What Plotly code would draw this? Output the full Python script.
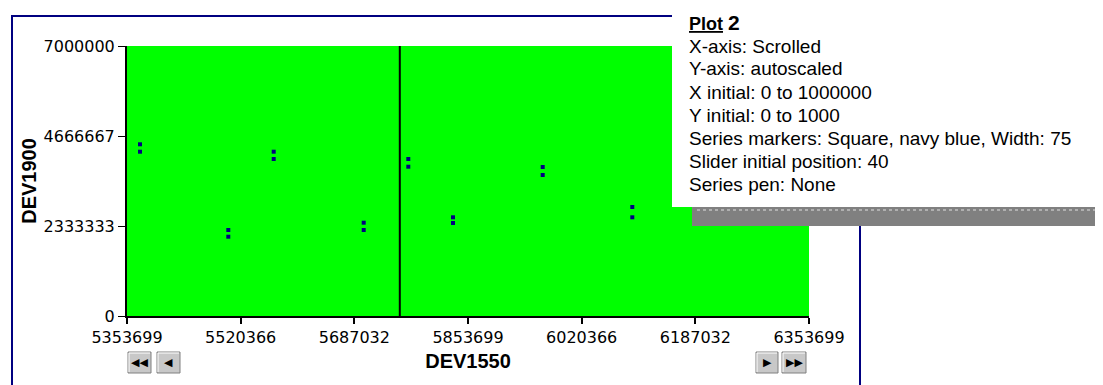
import plotly.graph_objects as go

# ---- data ----
x_values = [5372761, 5502233, 5568802, 5700766, 5766162, 5831705, 5963230, 6094608]
y_upper = [4451481, 2229630, 4259630, 2418889, 4070370, 2558889, 3862963, 2825926]
y_lower = [4259630, 2055926, 4070370, 2229630, 3870741, 2411111, 3655556, 2558889]
x_tick_values = [5353699, 5520366, 5687032, 5853699, 6020366, 6187032, 6353699]
x_tick_labels = ["5353699", "5520366", "5687032", "5853699", "6020366", "6187032", "6353699"]
y_tick_values = [0, 2333333, 4666667, 7000000]
y_tick_labels = ["0", "2333333", "4666667", "7000000"]
x_range = [5353699, 6353699]
y_range = [0, 7000000]
slider_position = 40  # percent
info_title = "Plot"
info_number = "2"
info_lines = [
    "X-axis: Scrolled",
    "Y-axis: autoscaled",
    "X initial: 0 to 1000000",
    "Y initial: 0 to 1000",
    "Series markers: Square, navy blue, Width: 75",
    "Slider initial position: 40",
    "Series pen: None",
]

# page body has an 8px margin; the figure is sized so it ends at the window edge
OFF = 8
WIN_W, WIN_H = 1103, 385
PLOT_L, PLOT_R, PLOT_T, PLOT_B = 127, 809, 46, 316  # window pixel coords of plot area
W, H = WIN_W - OFF, WIN_H - OFF
L, T = PLOT_L - OFF, PLOT_T - OFF
R, B = WIN_W - PLOT_R, WIN_H - PLOT_B
PW, PH = PLOT_R - PLOT_L, PLOT_B - PLOT_T


def pxx(x):
    return (x - PLOT_L) / PW


def pxy(y):
    return (PLOT_B - y) / PH


FONT = "Liberation Sans, Arial, sans-serif"
TICKFONT = "DejaVu Sans"
NAVY = "#000080"

fig = go.Figure()
fig.add_trace(go.Scatter(
    x=x_values + x_values,
    y=y_upper + y_lower,
    mode="markers",
    marker=dict(symbol="square", size=4, color=NAVY, line=dict(width=0)),
    hoverinfo="skip",
    showlegend=False,
))

slider_x = x_range[0] + slider_position / 100 * (x_range[1] - x_range[0])

shapes = []
# outer navy frame
shapes.append(dict(type="rect", xref="paper", yref="paper",
                   x0=pxx(12), x1=pxx(860), y0=pxy(420), y1=pxy(16),
                   line=dict(color=NAVY, width=2), fillcolor="rgba(0,0,0,0)", layer="above"))
# slider line
shapes.append(dict(type="line", xref="x", yref="y", x0=slider_x, x1=slider_x,
                   y0=y_range[0], y1=y_range[1], line=dict(color="black", width=2), layer="above"))
# popup shadow
shapes.append(dict(type="rect", xref="paper", yref="paper",
                   x0=pxx(692), x1=pxx(1110), y0=pxy(226), y1=pxy(8),
                   line=dict(width=0), fillcolor="#808080", layer="above"))
# popup box
shapes.append(dict(type="rect", xref="paper", yref="paper",
                   x0=pxx(672), x1=pxx(1097), y0=pxy(207), y1=pxy(-5),
                   line=dict(width=0), fillcolor="white", layer="above"))
# dotted line in shadow
shapes.append(dict(type="line", xref="paper", yref="paper",
                   x0=pxx(697), x1=pxx(1103), y0=pxy(210), y1=pxy(210),
                   line=dict(color="#e0e0e0", width=1, dash="dot"), layer="above"))
# scroll buttons
buttons = [(128, 151, "◀◀"), (157, 180, "◀"), (756, 778, "▶"), (782, 806, "▶▶")]
for x0, x1, _ in buttons:
    shapes.append(dict(type="rect", xref="paper", yref="paper",
                       x0=pxx(x0), x1=pxx(x1), y0=pxy(373), y1=pxy(352),
                       line=dict(color="#808080", width=1), fillcolor="#c8c8c8", layer="above"))
    shapes.append(dict(type="line", xref="paper", yref="paper",
                       x0=pxx(x0 + 1), x1=pxx(x1 - 1), y0=pxy(353), y1=pxy(353),
                       line=dict(color="white", width=1), layer="above"))
    shapes.append(dict(type="line", xref="paper", yref="paper",
                       x0=pxx(x0 + 1), x1=pxx(x0 + 1), y0=pxy(353), y1=pxy(372),
                       line=dict(color="white", width=1), layer="above"))

annotations = []
for x0, x1, sym in buttons:
    annotations.append(dict(xref="paper", yref="paper", x=pxx((x0 + x1) / 2), y=pxy(362.5),
                            text=sym, showarrow=False, xanchor="center", yanchor="middle",
                            font=dict(family="DejaVu Sans", size=11, color="black")))

annotations.append(dict(xref="paper", yref="paper", x=pxx(687), y=pxy(22),
                        text=f"<b><u>{info_title}</u></b> <b><span style='font-size:21px'>{info_number}</span></b>",
                        showarrow=False, xanchor="left", yanchor="middle",
                        font=dict(family=FONT, size=18, color="black")))
for i, line in enumerate(info_lines):
    annotations.append(dict(xref="paper", yref="paper", x=pxx(687), y=pxy(46 + i * 23),
                            text=line, showarrow=False, xanchor="left", yanchor="middle",
                            font=dict(family=FONT, size=19, color="black")))

fig.update_layout(
    width=W, height=H,
    margin=dict(l=L, r=R, t=T, b=B, pad=0),
    paper_bgcolor="white",
    plot_bgcolor="#00ff00",
    font=dict(family=FONT, size=17, color="black"),
    shapes=shapes,
    annotations=annotations,
    showlegend=False,
    xaxis=dict(range=x_range, tickvals=x_tick_values, ticktext=x_tick_labels,
               showgrid=False, zeroline=False, showline=True, linecolor="black", linewidth=2,
               ticks="outside", ticklen=6, tickwidth=2, tickcolor="black",
               title=dict(text="<b>DEV1550</b>", font=dict(size=20, family=FONT), standoff=8),
               tickfont=dict(size=16, family=TICKFONT)),
    yaxis=dict(range=y_range, tickvals=y_tick_values, ticktext=y_tick_labels,
               showgrid=False, zeroline=False, showline=True, linecolor="black", linewidth=2,
               ticks="outside", ticklen=7, tickwidth=1, tickcolor="black",
               title=dict(text="<b>DEV1900</b>", font=dict(size=20, family=FONT), standoff=2),
               tickfont=dict(size=16, family=TICKFONT)),
)

fig.write_html("out.html")
